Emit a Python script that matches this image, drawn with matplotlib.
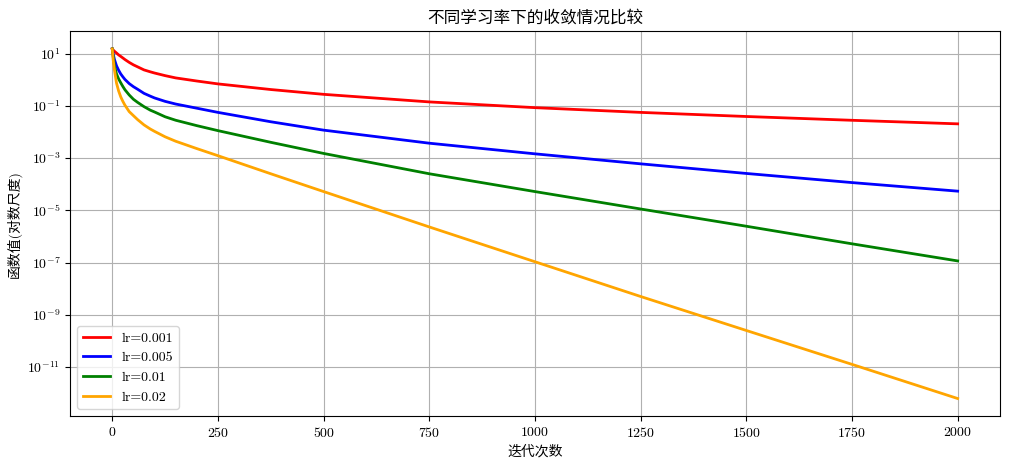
import matplotlib
matplotlib.use('Agg')
import matplotlib.pyplot as plt

# 字体: 数字用 cmr10, 中文回退到 Noto Sans CJK SC
plt.rcParams['font.family'] = ['cmr10', 'Noto Sans CJK SC', 'DejaVu Sans']
plt.rcParams['mathtext.fontset'] = 'cm'
plt.rcParams['axes.formatter.use_mathtext'] = True
plt.rcParams['axes.unicode_minus'] = False

# 迭代次数 (采样点)
iters = [0, 2, 5, 10, 15, 20, 25, 30, 40, 50, 60, 75, 90, 100, 125, 150, 200, 250,
         375, 500, 750, 1000, 1250, 1500, 1750, 2000]

# 函数值
f_lr0001 = [15.1, 13.8, 12.3, 10.5, 8.9, 7.8, 6.8, 5.9, 4.6, 3.7, 3.1, 2.37, 2.0,
            1.80, 1.43, 1.17, 0.89, 0.69, 0.42, 0.275, 0.141, 0.085, 0.056, 0.039,
            0.0279, 0.0204]
f_lr0005 = [15.1, 10.0, 6.0, 3.4, 2.3, 1.66, 1.29, 1.02, 0.71, 0.54, 0.43, 0.30,
            0.234, 0.20, 0.148, 0.117, 0.081, 0.056, 0.0245, 0.0117, 3.7e-3, 1.45e-3,
            6.0e-4, 2.57e-4, 1.15e-4, 5.4e-5]
f_lr001 = [15.1, 7.9, 3.5, 1.66, 1.07, 0.76, 0.55, 0.41, 0.26, 0.178, 0.135, 0.093,
           0.068, 0.058, 0.038, 0.028, 0.0174, 0.0112, 4.0e-3, 1.5e-3, 2.5e-4, 5.2e-5,
           1.12e-5, 2.45e-6, 5.2e-7, 1.15e-7]
f_lr002 = [15.1, 6.0, 2.4, 0.74, 0.37, 0.22, 0.148, 0.105, 0.060, 0.042, 0.0295,
           0.0186, 0.0129, 0.0105, 6.5e-3, 4.4e-3, 2.3e-3, 1.23e-3, 2.5e-4, 5.2e-5,
           2.3e-6, 1.07e-7, 5.0e-9, 2.5e-10, 1.26e-11, 6.2e-13]

labels = ['lr=0.001', 'lr=0.005', 'lr=0.01', 'lr=0.02']
colors = ['red', 'blue', 'green', 'orange']
series = [f_lr0001, f_lr0005, f_lr001, f_lr002]

fig, ax = plt.subplots(figsize=(10.09, 4.69), dpi=100)
for vals, lab, c in zip(series, labels, colors):
    ax.plot(iters, vals, color=c, linewidth=2, label=lab)

ax.set_yscale('log')
ax.set_title('不同学习率下的收敛情况比较', fontsize=12)
ax.set_xlabel('迭代次数', fontsize=10)
ax.set_ylabel('函数值(对数尺度)', fontsize=10)
ax.grid(True)
ax.legend(loc='lower left')

fig.subplots_adjust(left=0.0694, right=0.991, top=0.933, bottom=0.113)
fig.savefig('out.png', dpi=100)
